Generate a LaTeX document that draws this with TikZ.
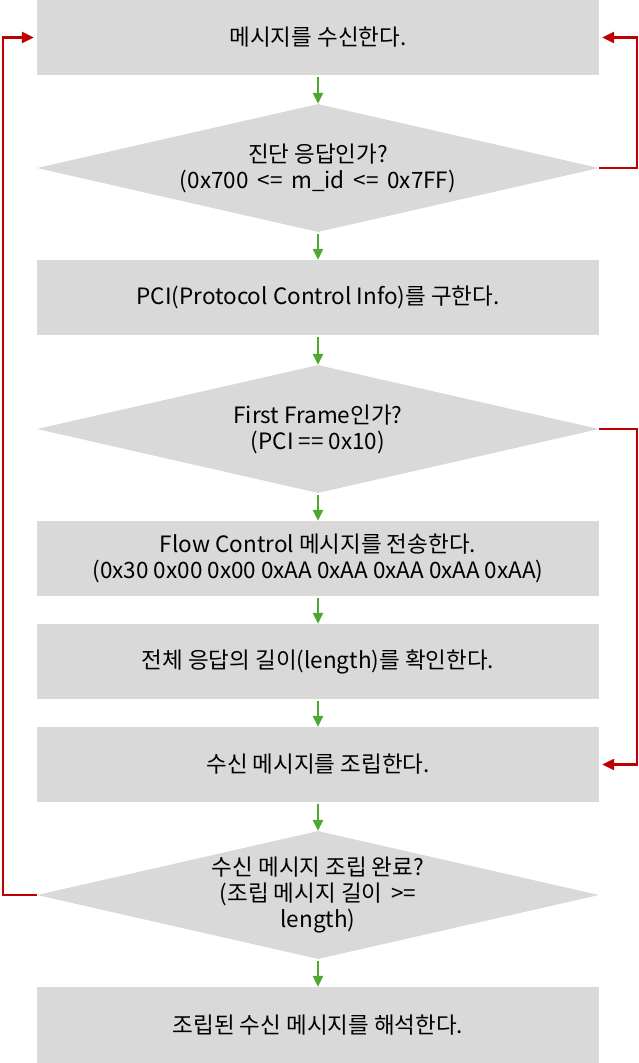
\documentclass[tikz,border=0pt]{standalone}
\usepackage{fontspec}
\setmainfont{Noto Sans CJK KR}
\usetikzlibrary{shapes.geometric,arrows.meta}

\definecolor{boxgray}{HTML}{D9D9D9}
\definecolor{flowgreen}{HTML}{4EA72E}
\definecolor{loopred}{HTML}{C00000}

\begin{document}
\begin{tikzpicture}[x=1pt, y=-1pt,
  stepbox/.style={rectangle, fill=boxgray, minimum width=562pt, minimum height=75pt, align=center, font=\fontsize{22.5}{26}\selectfont},
  decision/.style={diamond, fill=boxgray, aspect=4.39, inner sep=0pt, minimum width=562pt, minimum height=128pt, align=center, font=\fontsize{22.5}{26}\selectfont},
  flow/.style={draw=flowgreen, line width=2.3pt, -{Triangle[length=11pt, width=10pt]}, shorten <=2pt},
  loopback/.style={draw=loopred, line width=2.4pt, -{Triangle[length=12pt, width=11pt]}, shorten >=3pt}]
\useasboundingbox (0,0) rectangle (639,1063);

\node[stepbox] (recv) at (318, 37.5) {메시지를 수신한다.};
\node[decision] (isdiag) at (318, 168) {진단 응답인가?\\(0x700 \,<=\, m\_id \,<=\, 0x7FF)};
\node[stepbox] (pci) at (318, 297.5) {PCI(Protocol Control Info)를 구한다.};
\node[decision] (isff) at (318, 429) {First Frame인가?\\(PCI == 0x10)};
\node[stepbox] (fc) at (318, 558.5) {Flow Control 메시지를 전송한다.\\(0x30 0x00 0x00 0xAA 0xAA 0xAA 0xAA 0xAA)};
\node[stepbox] (len) at (318, 661.5) {전체 응답의 길이(length)를 확인한다.};
\node[stepbox] (asm) at (318, 764.5) {수신 메시지를 조립한다.};
\node[decision] (done) at (318, 895) {수신 메시지 조립 완료?\\(조립 메시지 길이 \,>=\\length)};
\node[stepbox, minimum height=76pt] (parse) at (318, 1025) {조립된 수신 메시지를 해석한다.};

% main flow
\draw[flow] (recv) -- (isdiag);
\draw[flow] (isdiag) -- (pci);
\draw[flow] (pci) -- (isff);
\draw[flow] (isff) -- (fc);
\draw[flow] (fc) -- (len);
\draw[flow] (len) -- (asm);
\draw[flow] (asm) -- (done);
\draw[flow] (done) -- (parse);

% loops
\draw[loopback] (isdiag.east) -- ++(38,0) |- (recv.east);
\draw[loopback] (isff.east) -- ++(38,0) |- (asm.east);
\draw[loopback] (done.west) -- ++(-34,0) |- (recv.west);

\end{tikzpicture}
\end{document}
